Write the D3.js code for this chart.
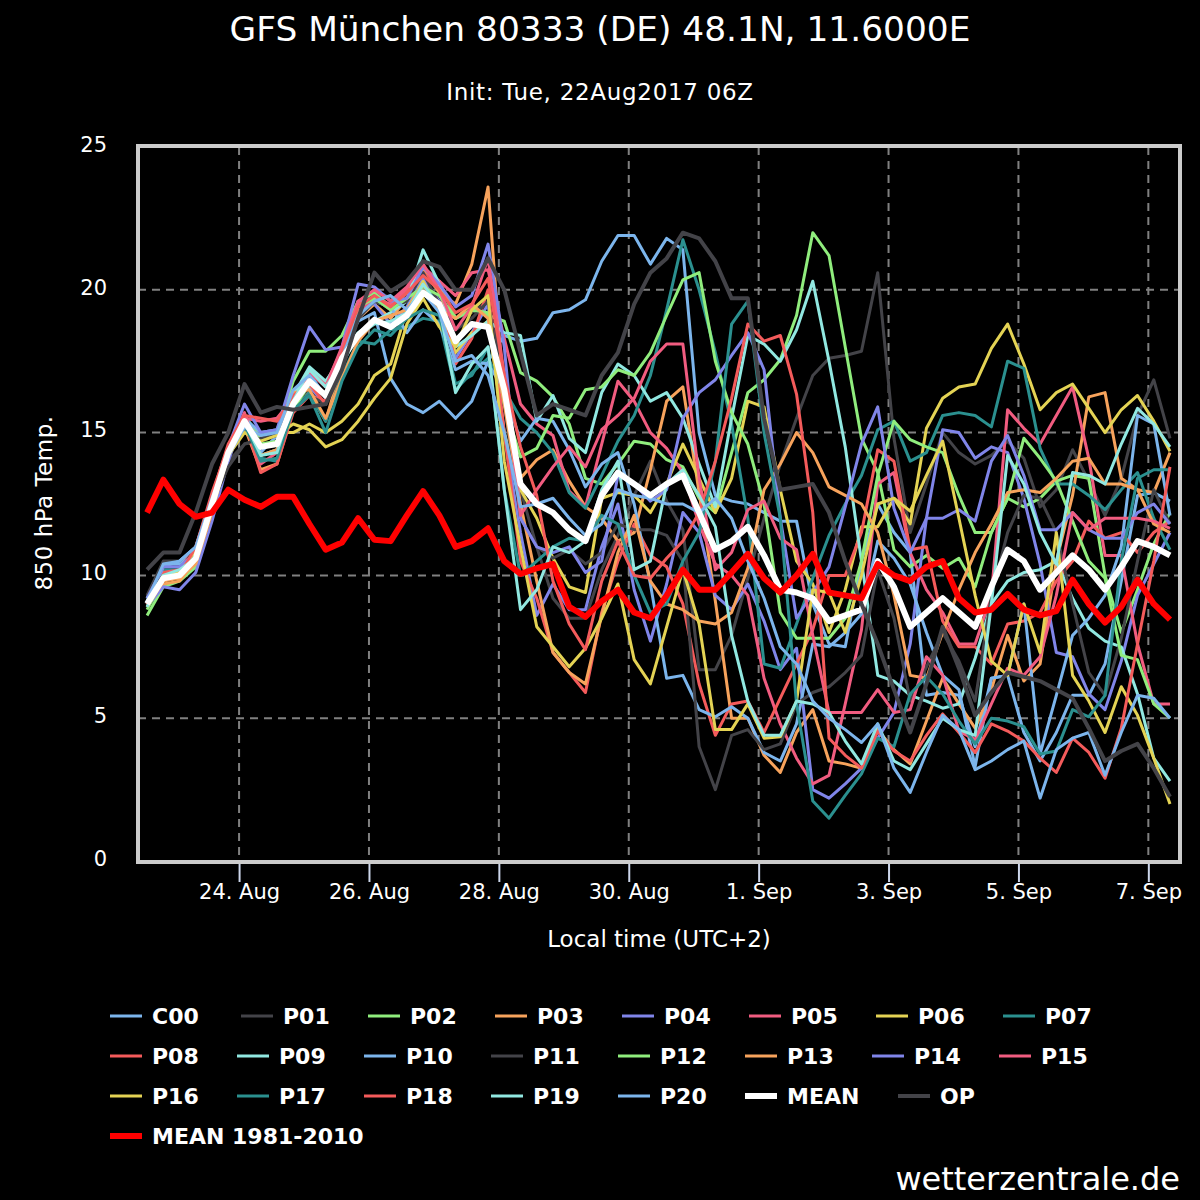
<html>
<script src='https://d3js.org/d3.v7.min.js'></script>
<style>
body {margin: 0; background: #000;}
text {font-family: 'DejaVu Sans', sans-serif; fill: #fff;}
</style>
<body>
<svg width=1200 height=1200></svg>
<script>
// 6-hourly values, 8 per row, 22 Aug 14:00 local onwards
const C00 = [9.2,10.4,10.4,10.9,12.8,14.4,15.6,14.3, 14.9,16.4,17.1,16.2,17.8,18.9,19.2,16.9, 16,15.7,16.1,15.5,16.1,17.5,18.4,18.2,
  18.3,19.2,19.3,19.65,21,21.9,21.9,20.9, 21.8,21.4,15,12.8,12.6,12.5,12.2,11.9, 11.9,9,7.6,7.5,10.5,12.5,11.5,10.8, 5.8,5.9,5.8,4,6.4,6.5,4.5,3.5, 4.5,5.8,5.8,6.9,9.8,12.8,12.9,12.6];
const P01 = [9.3,10.5,10.5,11,12.4,14,14.6,14.7, 14.9,16.3,16.4,16,17.8,19.3,20,19.7, 19.8,20.6,19.9,19,19.2,19.6,17,13,
  11,9.2,8.5,8.5,10.2,11.4,12.8,14, 12.6,11.6,6.7,6.7,7.9,9.9,12,13.9, 15.5,17,17.6,17.7,17.85,20.6,14.8,11.5, 13.2,15,14.3,13.9,14.2,14.7,14.1,12.4, 13,14.4,13.3,12.1,13.4,15.6,16.85,14.8];
const P02 = [8.6,9.6,9.8,10.3,12.3,14.1,15.6,14.8, 15,16.8,17.85,17.85,18.4,19.6,19.9,19.4, 19.7,20.5,20.3,19,19.3,19.1,18.9,17.1,
  16.8,16.25,15.3,13.4,13.2,13.9,14.7,14.6, 14.05,13.8,12.7,12.2,14.3,16.4,16.85,17.55, 19.1,22,21.2,18,14.8,13.6,10.9,10.3, 10.7,10.25,10.6,9.6,11.5,12.7,12.4,12.7, 13.3,13.5,13.4,10,8,9.5,11.1,12.2];
const P03 = [9,9.7,9.8,10.5,12.4,14.3,15.2,13.7, 13.9,15.8,16.4,15.4,17.4,19,19.5,19, 19.7,20.7,19.9,19.5,20.9,23.6,16,13.4,
  14.05,14.4,13.3,12.4,12,11.2,11.5,13.7, 16.1,16.6,12.9,9.1,5,5,3.7,3.1, 4.5,5.3,3.5,3.4,3.25,4.6,3.9,3.4, 4.9,6.4,5.5,4.65,6,7.9,6.3,6.9, 10.5,12.8,16.25,16.4,13.4,13,12.9,14.3];
const P04 = [8.9,9.6,9.5,10.1,11.9,14,15.6,14.5, 14.6,16.2,16.6,16,17.5,19.6,19.5,18.8, 19.4,20.4,19.6,17.6,18.5,19.5,15,11.5,
  8.6,9.7,8.8,8.8,11,12.5,9.5,7.7, 9.7,12.2,11.5,9.3,8.8,9.7,8.4,6.7, 7.45,2.5,2.2,2.7,3.25,4.3,5.2,7.6, 12,15.1,15,14.1,14.5,14.3,12.7,10.4, 7.3,7.15,5.85,5.3,7,9.3,10.4,11.5];
const P05 = [9,10,10.1,10.9,12.8,14.5,15.5,15.4, 15.5,16.2,17.2,16.7,17.9,19.2,19.7,19.5, 20,20.8,20.3,19.8,20.6,20.7,18.3,16,
  15.3,14.9,12.95,12.4,14.6,16.8,16.1,15, 14.45,13.6,11.8,10.4,10,9.3,6.4,4.8, 3.6,2.7,3,5.5,8.1,13.2,13.6,10.8, 9.5,8.7,7.6,7.6,9.3,15.8,15.15,14.6, 15.6,16.6,14.1,10.7,10.7,7.6,5.5,5.5];
const P06 = [9.1,9.9,10,10.7,12.4,14.2,15.2,14.9, 15,15,15.3,15,15.4,16,17,17.4, 19.3,20.3,19.2,17.8,18.5,18.9,15,13,
  12,10.6,9.6,9.4,12.7,12.9,12.8,12.2, 13.2,14.6,13.4,12.2,13.4,16.1,15.9,13, 10.5,9.7,8,9.5,11.7,11.7,12.7,11.8, 15.15,16.2,16.6,16.7,17.95,18.8,17.4,15.8, 16.4,16.7,15.85,15,15.8,16.3,15.4,14.35];
const P07 = [9.1,10.2,10.2,10.6,12.6,14.2,15.2,14.1, 14,15.8,16.4,15.4,17,18.2,18.1,18.6, 18.7,19,18.9,16.5,17.1,17.6,16.5,15.5,
  15,14.3,12.9,12.35,13.5,14.7,15.6,17, 19.3,21.75,20,17.8,15.3,12,6.9,6.75, 8.3,9.9,11.4,12.5,13.5,15.1,15.4,14, 14.3,15.6,15.7,15.6,15.2,17.5,17.25,14.45, 13.2,13.2,12.8,12.3,13,13.6,12,10.9];
const P08 = [9,10.1,10.2,11,12.9,14.5,15.4,13.6, 13.9,15.7,16.3,16.1,17.9,19.5,19.7,19.3, 19.9,20.6,20.1,17.4,18.3,20,15,10.5,
  9.2,7.3,6.6,5.9,8.7,10.5,11.8,10.7, 10.3,9,6.2,4.4,5.5,5.6,4.5,5.7, 6.9,8.1,10,10,11.5,14.4,14,10.9, 11,8.4,7.5,7.5,6.9,8.3,8.4,8.7, 9.8,10.5,11.9,11.3,11.5,10.8,11.5,11.9];
const P09 = [8.9,10,10.1,10.7,12.5,14.3,15.3,14.2, 14.4,16.3,17.3,16.8,17.6,18.5,18.9,19.2, 19.6,21.4,20.2,18,18.4,18.9,18.5,18.4,
  15.4,16.3,14.8,14.3,16.4,17.4,17,16.1, 16.4,15.5,13.9,12.4,15.5,18.4,18.1,17.5, 18.6,20.3,17.5,14.5,10.5,6.5,6.3,5.8, 5.6,5.35,5.5,7.1,9,9.8,10.1,10.2, 10.5,9.2,8.15,7.7,7.5,5.85,3.6,2.8];
const P10 = [9,10.3,10.5,11,12.7,14.4,15.5,15, 15.1,16.3,16.6,16.3,17.4,19,19.6,19.4, 18.5,19.3,18.8,17.2,17.5,17.4,16.5,14.7,
  15.5,15.4,14.4,13.1,13.9,14.3,12.5,9.7, 6.4,6.5,5.3,5.05,5.4,5,3.8,3.5, 4.8,7.6,7.5,8,8.65,11.2,10.6,9.7, 8,6.5,6,3.3,6.4,6.5,9,3.75, 5.8,7.9,8.5,9.3,11,15.6,15.3,12.1];
const P11 = [9.3,10,10.1,11,12.5,13.8,14.6,14.8, 15,15.8,16.3,16,17.8,19,19.6,19.4, 19.6,20.6,19.5,18.6,19,19.6,16,12,
  11,10.6,10.9,10.4,10.8,11.8,11.6,11.6, 11.4,10.5,4,2.5,4.4,4.6,3.9,4.1, 5.5,5.9,6.1,6.6,7.2,10.2,8.5,5.6, 6.8,8,7,5.6,9.3,11.5,12.8,12.7, 11.5,9,6.6,5.8,7.8,10.5,13,11.8];
const P12 = [8.8,9.9,10,10.6,12.4,14.4,15.3,14.6, 14.7,15.8,16.7,16.3,17.7,19.4,19.7,19.3, 19.7,20.1,19.8,19,19.3,19.2,16,14.15,
  14.45,15.6,15.5,16.5,16.6,17.2,17,17.8, 19.1,20.35,20.6,17.5,15.7,14.6,12.5,8.7, 7.8,7.8,7.8,8.5,10.5,13.5,15.4,14.75, 14.5,14.3,12.8,11.5,11.5,12.7,14.8,14.1, 13.3,11.9,10.5,9.9,7.2,7.05,5.5,5];
const P13 = [8.9,9.8,9.9,10.4,12.2,14.4,15.3,14.2, 14.4,16.4,16.5,15.5,16.9,18.2,18.9,19.1, 19.3,20.2,19.3,19,19.5,19,16,12.5,
  9.8,7.3,6.6,6.2,8.6,10.8,12.1,9.8, 9,8.8,8.4,8.3,8.7,10.25,13,13.9, 15,14.3,13.1,12.8,12.5,11.5,9.3,6.5, 6.4,8,9.5,10.8,11.8,12.9,13,12.9, 13.4,14,14.1,13.2,13.2,13,11.8,11.5];
const P14 = [9.2,10.3,10.3,10.8,12.6,14.5,16,15, 15.1,17,18.7,17.9,18,20.2,20.1,19.6, 19.7,20.8,20.2,19.4,19.8,21.6,18,12,
  11,10.8,11,10.1,10.5,13.5,13.2,12.6, 13,15.5,16.4,16.85,17.7,18.5,17.2,12, 8.5,9.4,10.3,12.4,14.6,15.9,12.35,10.8, 12,12,12.3,11.9,14,14.9,13.5,11.6, 11.6,12.2,11.6,11.3,11.3,12.2,12.5,11.8];
const P15 = [9,10,10.1,10.8,12.8,14.4,15.7,13.9, 14.3,16,17.1,16.6,18,19.6,20,19.6, 20.1,20.9,20,18.6,19.4,21.1,17,12.1,
  13,13.8,14.5,13.8,15.1,15.6,16.2,17.5, 18.1,18.1,13.4,10.2,10.8,12.3,12.6,11.3, 10.9,7.9,5.2,5.2,5.2,6,5.2,5.3, 7.15,6.5,4.55,4.25,5.5,6.75,6.5,7.15, 9.3,12.2,11.6,12,12,12,11.9,11.65];
const P16 = [9,10,10.1,10.8,12.3,14.2,15,14.7, 14.9,15.3,15.1,14.5,14.75,15.4,16.2,16.9, 18.8,19.7,18.7,18,19.3,19.8,14,11,
  8.2,7.5,6.8,7.45,8.5,9.7,7.05,6.2, 8.2,10.2,8.3,4.6,4.6,5.5,4.3,4.35, 5.6,9.5,9.4,8,10,12.5,12.7,12.25, 13.5,14.7,12,9.3,7,6.5,9,7.3, 11.5,6.5,5.6,4.5,6.1,5.1,3.6,2];
const P17 = [9.1,10,10,10.7,12.5,14.3,15.3,14, 14.1,15.8,16.3,15,16.8,18,18.6,18.4, 19,19.3,19.1,16.7,17,18,13,10,
  10.5,11,11.3,11.2,12.1,11.8,10,8.7, 9,10.5,11.5,14,18.8,19.6,15,12, 5.5,2.1,1.5,2.3,3.05,4.3,4,5.85, 6.45,5.85,4.9,4.1,5,4.9,4.7,3.75, 3.85,5.3,5.05,5.8,10.5,13.4,13.7,13.7];
const P18 = [9,9.9,10,11,12.8,14.6,15.6,15.5, 15.4,16.3,16.7,16,17.8,19.4,19.8,19.4, 19.9,20.5,20,19.2,19.5,20.4,17,14.5,
  12.8,9.8,8.3,7.4,9.8,11.2,10,9.9, 10.6,11.2,12.2,14,16.2,18.8,18.2,18.4, 16.35,12.2,4.3,3.7,3.25,4.55,3.85,3.5, 4.4,5.15,4.5,3.8,4.8,4.55,4.2,3.6, 3.1,4.3,3.8,2.9,4.65,7.6,10.5,13.8];
const P19 = [8.9,10,10.2,10.6,12.5,14.2,15.4,14.2, 14.3,16.1,17.2,16.6,17.4,18.4,18.8,18.9, 19.2,20.2,19.4,16.4,17.4,18,13,8.8,
  9.5,11,10.8,11.2,13,14,10.2,10.5, 13.2,13.7,12.8,11.7,7.9,5.6,4.4,4.4, 5.6,5.5,5.2,4.2,3.4,4.8,3.5,3.2, 4.1,5,4.6,4.4,9,14.2,13.2,11.5, 10.4,13.6,13.5,13.2,14.6,15.85,15.3,14.5];
const P20 = [9.1,10.4,10.5,11,12.7,14.2,15.2,14.9, 15,16.5,17,16.3,17.6,19.1,19.6,19.8, 19.3,19.9,19.2,17.5,17.7,17,15,12.4,
  12.5,12.7,12,11.4,11.8,13,12.8,12.7, 12.5,12.5,12.2,12.7,12,10.5,9.2,7.5, 6.9,5.6,5,4.6,4.15,4.8,3.25,2.4, 3.8,5.1,4.6,3.2,3.5,3.9,4.2,2.2, 3.9,4.3,4.5,3,4.5,5.8,5.7,5];
const MEAN = [9,9.9,10,10.6,12.5,14.3,15.4,14.5, 14.6,16,16.8,16.3,17.6,18.4,18.95,18.7, 19.1,19.9,19.5,18.2,18.8,18.7,16.5,13.2,
  12.5,12.2,11.6,11.2,12.8,13.6,13.2,12.8, 13.2,13.5,12.2,10.9,11.2,11.7,10.7,9.5, 9.4,9.2,8.4,8.6,8.8,10.5,9.6,8.2, 8.7,9.2,8.7,8.2,9.6,10.9,10.5,9.5, 10.1,10.7,10.2,9.5,10.3,11.2,11,10.7];
const OP = [10.2,10.8,10.8,12.2,13.9,15,16.7,15.7, 15.9,15.8,15.9,16,17.2,19,20.6,19.95, 20.3,21,20.8,20,20,21.1,20,17.8,
  15.6,16,15.8,15.6,17,17.8,19.5,20.6, 21.1,22,21.8,21,19.7,19.7,15.5,13, 13.1,13.2,12.2,10.5,9,7.6,6,4.5, 6.2,8.2,6.75,5.1,5.9,6.6,6.45,6.3, 6,5.7,4.65,3.5,3.85,4.1,3.25,2.25];
const CLIM = [12.2,13.35,12.5,12.05,12.2,13,12.65,12.4, 12.75,12.75,11.8,10.9,11.15,12,11.25,11.2, 12.1,12.95,12.1,11,11.2,11.65,10.5,10.05,
  10.25,10.4,8.9,8.55,9.1,9.5,8.7,8.5, 9.3,10.2,9.5,9.5,10.1,10.75,9.9,9.4, 10,10.75,9.4,9.3,9.2,10.4,10,9.8, 10.3,10.5,9.2,8.7,8.8,9.35,8.8,8.6, 8.75,9.85,9,8.35,8.9,9.85,9,8.45];

const palette = ['#7cb5ec','#434348','#90ed7d','#f7a35c','#8085e9','#f15c80','#e4d354','#2b908f','#f45b5b','#91e8e1'];
const names = ['C00','P01','P02','P03','P04','P05','P06','P07','P08','P09','P10','P11','P12','P13','P14','P15','P16','P17','P18','P19','P20','MEAN','OP','MEAN 1981-2010'];
const values = [C00,P01,P02,P03,P04,P05,P06,P07,P08,P09,P10,P11,P12,P13,P14,P15,P16,P17,P18,P19,P20,MEAN,OP,CLIM];
const yTicks = [0,5,10,15,20,25];
const xTicks = ['2017-08-24','2017-08-26','2017-08-28','2017-08-30','2017-09-01','2017-09-03','2017-09-05','2017-09-07'];

const plotL = 138, plotR = 1180, plotT = 147, plotB = 861;
const svg = d3.select('svg');
svg.append('rect').attr('width',1200).attr('height',1200).attr('fill','#000');

const start = Date.UTC(2017,7,22,14), hour = 3600000;
const time = i => new Date(start + i*6*hour);
const x = d3.scaleUtc()
  .domain([new Date(start - 3.35*hour), new Date(start + 381.7*hour)])
  .range([plotL,plotR]);
const y = d3.scaleLinear().domain([0,25]).range([plotB,plotT]);

function colorOf(i) {
  if (i == 21) return '#fff';
  if (i == 22) return '#434348';
  if (i == 23) return '#f00';
  return palette[i%10];
}
function widthOf(i) {
  if (i == 21 || i == 23) return 6;
  if (i == 22) return 4;
  return 3;
}

// grid
const xDates = xTicks.map(d => new Date(d+'T00:00:00Z'));
const grid = svg.append('g').attr('stroke','#808080').attr('stroke-width',2).attr('stroke-dasharray','8,6');
grid.selectAll('.gx').data(xDates).enter().append('line').attr('class','gx')
  .attr('x1',d => x(d)).attr('x2',d => x(d)).attr('y1',plotT).attr('y2',plotB);
grid.selectAll('.gy').data(yTicks.slice(1,5)).enter().append('line').attr('class','gy')
  .attr('x1',plotL).attr('x2',plotR).attr('y1',d => y(d)).attr('y2',d => y(d));

// series
const line = d3.line().x((d,i) => x(time(i))).y(d => y(d));
svg.append('g').selectAll('path').data(values).enter().append('path')
  .attr('d',line)
  .attr('fill','none')
  .attr('stroke',(d,i) => colorOf(i))
  .attr('stroke-width',(d,i) => widthOf(i))
  .attr('stroke-linejoin','round');

// frame
svg.append('rect').attr('x',plotL).attr('y',plotT-1).attr('width',plotR-plotL).attr('height',plotB-plotT+2)
  .attr('fill','none').attr('stroke','#ccc').attr('stroke-width',4);

// axes
const yAxis = svg.append('g').attr('transform','translate('+plotL+',0)')
  .call(d3.axisLeft(y).tickValues(yTicks).tickSize(0).tickPadding(31));
yAxis.select('.domain').remove();
yAxis.selectAll('text').attr('font-size',21).attr('dy','0.2em').style('font-family',"'DejaVu Sans'").attr('fill','#fff');

const xAxis = svg.append('g').attr('transform','translate(0,'+(plotB+3)+')')
  .call(d3.axisBottom(x).tickValues(xDates).tickSize(18).tickPadding(2)
    .tickFormat(d => d.getUTCDate()+'. '+d3.utcFormat('%b')(d)));
xAxis.select('.domain').remove();
xAxis.selectAll('line').attr('stroke','#ccd6eb').attr('stroke-width',2);
xAxis.selectAll('text').attr('font-size',21).style('font-family',"'DejaVu Sans'").attr('fill','#fff');

// titles
svg.append('text').attr('x',600).attr('y',41).attr('text-anchor','middle').attr('font-size',34.4).text('GFS München 80333 (DE) 48.1N, 11.6000E');
svg.append('text').attr('x',600).attr('y',100).attr('text-anchor','middle').attr('font-size',23).attr('letter-spacing',0.7).text('Init: Tue, 22Aug2017 06Z');
svg.append('text').attr('x',659).attr('y',947).attr('text-anchor','middle').attr('font-size',23).text('Local time (UTC+2)');
svg.append('text').attr('transform','translate(52,503) rotate(-90)').attr('text-anchor','middle').attr('font-size',23).attr('letter-spacing',0.5).text('850 hPa Temp.');
svg.append('text').attr('x',1180).attr('y',1190).attr('text-anchor','end').attr('font-size',32).text('wetterzentrale.de');

// legend
const lg = svg.append('g').selectAll('g').data(names).enter().append('g')
  .attr('transform',(d,i) => {
    const row = i == 23 ? 3 : Math.floor(i/8), col = i == 23 ? 0 : i%8;
    let lx = 110 + col*127;
    if (row == 0 && col > 0) lx += 4;
    if (i == 22) lx = 898;
    return 'translate('+lx+','+(1016+row*40)+')';
  });
lg.append('line').attr('x1',0).attr('x2',32)
  .attr('stroke',(d,i) => colorOf(i))
  .attr('stroke-width',(d,i) => widthOf(i));
lg.append('text').attr('x',42).attr('y',8).attr('font-size',22).attr('font-weight','bold').text(d => d);
</script>
</body>
</html>
